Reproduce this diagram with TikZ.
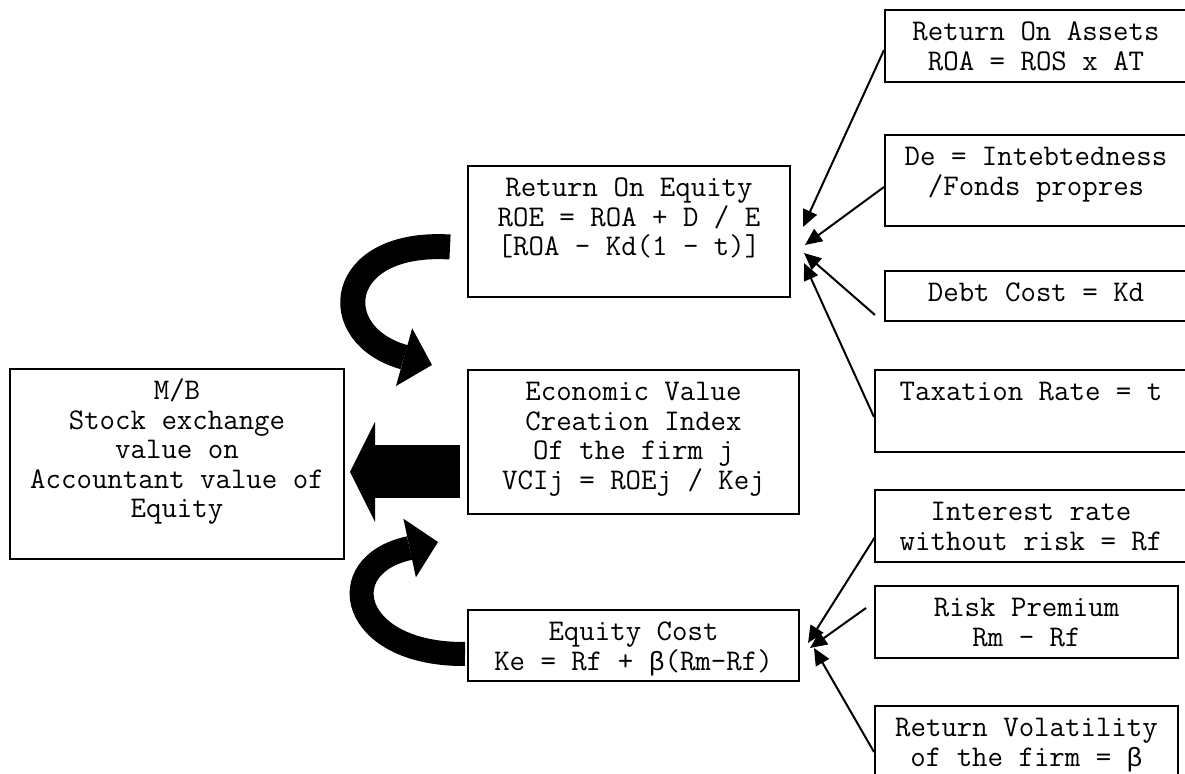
\documentclass[tikz,border=0pt]{standalone}
\usepackage{fontspec}
\newfontfamily\betafont[Scale=0.88]{Liberation Mono}
\usetikzlibrary{arrows.meta,positioning,calc}
\newcommand{\boxlines}[3]{\parbox[t][#2][t]{#1}{\centering\rule{0pt}{15.5pt}#3}}

\begin{document}
\begin{tikzpicture}[x=0.5pt, y=-0.5pt,
    box/.style={draw, line width=1pt, inner sep=0pt, anchor=north west, font=\ttfamily\fontsize{15pt}{14.75pt}\selectfont},
    arr/.style={-{Triangle[length=8.5pt, width=7.5pt]}, line width=1pt},
    bigarr/.style={-{Triangle[length=12.5pt, width=50pt, line width=0pt]}, line width=26.5pt},
    curvarr/.style={-{Triangle[length=14.5pt, width=30pt, line width=0pt]}, line width=#1},
    curvarr/.default=11pt
]
\useasboundingbox (0,0) rectangle (1185,774);
\clip (0,0) rectangle (1185,774);

\node[box] (mb) at (9,368) {\boxlines{167pt}{95pt}{M/B\\Stock exchange\\value on\\Accountant value of\\Equity}};
\node[box] (roe) at (467,165) {\boxlines{161pt}{65.5pt}{Return On Equity\\ROE = ROA + D / E\\{}[ROA - Kd(1 - t)]}};
\node[box] (evci) at (467,369) {\boxlines{165.5pt}{72pt}{Economic Value\\Creation Index\\Of the firm j\\VCIj = ROEj / Kej}};
\node[box] (eqc) at (467,609) {\boxlines{165.5pt}{35.5pt}{Equity Cost\\Ke = Rf + {\betafont β}(Rm-Rf)}};
\node[box] (roa) at (884,9) {\boxlines{151pt}{36pt}{Return On Assets\\ROA = ROS x AT}};
\node[box] (de) at (884,134) {\boxlines{151pt}{45.5pt}{De = Intebtedness\\/Fonds propres}};
\node[box] (debt) at (884,270) {\boxlines{151pt}{25pt}{Debt Cost = Kd}};
\node[box] (tax) at (874,369) {\boxlines{156pt}{41pt}{Taxation Rate = t}};
\node[box] (intr) at (874,489) {\boxlines{156pt}{36pt}{Interest rate\\without risk = Rf}};
\node[box] (risk) at (874,585) {\boxlines{151.5pt}{36pt}{Risk Premium\\Rm - Rf}};
\node[box] (vol) at (874,705) {\boxlines{151.5pt}{37pt}{Return Volatility\\of the firm = {\betafont β}}};

\draw[arr] ($(roa.north west)+(0,41)$) -- ($(roe.north east)+(12,62)$);
\draw[arr] ($(de.north west)+(0,53)$) -- ($(roe.north east)+(14,80)$);
\draw[arr] ($(debt.south west)+(-9,-7)$) -- ($(roe.north east)+(13,88)$);
\draw[arr] ($(tax.north west)+(0,48)$) -- ($(roe.north east)+(13,98)$);
\draw[arr] ($(intr.north west)+(1,48)$) -- ($(eqc.north east)+(8,34)$);
\draw[arr] ($(risk.north west)+(-8,23)$) -- ($(eqc.north east)+(10,39)$);
\draw[arr] ($(vol.north west)+(0,47)$) -- ($(eqc.north east)+(14,39)$);

\draw[bigarr] ($(evci.north west)+(-7,103)$) -- ($(mb.north east)+(5,104)$);
\draw[curvarr=12.5pt] ($(roe.north west)+(-17,82)$) .. controls (335,240) and (325,335) .. ($(evci.north west)+(-35,-4)$);
\draw[curvarr=12pt] ($(eqc.north west)+(-2,45)$) .. controls (350,655) and (330,565) .. ($(evci.south west)+(-29,27)$);
\end{tikzpicture}
\end{document}
